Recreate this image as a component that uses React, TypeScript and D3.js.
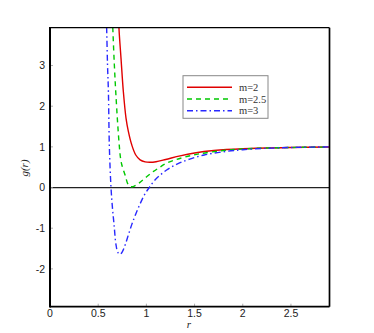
import React from "react";
import * as d3 from "d3";

const xTicks = [0, 0.5, 1, 1.5, 2, 2.5];
const yTicks = [-2, -1, 0, 1, 2, 3];
const seriesNames = ["m=2", "m=2.5", "m=3"];
const seriesColors = ["#e00000", "#00c800", "#2828ff"];
const seriesDash = ["none", "5,4", "6,3,1.5,3"];

const redR = [0.705, 0.716, 0.737, 0.761, 0.789, 0.813, 0.848, 0.89, 0.935, 0.987, 1.04, 1.1, 1.2, 1.35, 1.5, 1.7, 2.0, 2.5, 2.9];
const redG = [4.6, 3.9, 3.17, 2.36, 1.7, 1.38, 1.05, 0.8, 0.68, 0.63, 0.62, 0.635, 0.69, 0.78, 0.85, 0.91, 0.955, 0.985, 0.995];

const greenR = [0.642, 0.652, 0.668, 0.682, 0.703, 0.72, 0.732, 0.745, 0.78, 0.81, 0.84, 0.87, 0.93, 1.0, 1.07, 1.14, 1.21, 1.3, 1.4, 1.55, 1.8, 2.05, 2.5, 2.9];
const greenG = [4.6, 3.9, 3.0, 2.36, 1.54, 1.0, 0.72, 0.56, 0.3, 0.08, 0.02, 0.03, 0.12, 0.26, 0.39, 0.5, 0.6, 0.68, 0.75, 0.83, 0.91, 0.955, 0.985, 0.995];

const blueR = [0.58, 0.588, 0.597, 0.606, 0.616, 0.633, 0.648, 0.665, 0.685, 0.705, 0.727, 0.75, 0.78, 0.815, 0.85, 0.89, 0.935, 0.98, 1.03, 1.08, 1.14, 1.21, 1.28, 1.35, 1.45, 1.6, 1.8, 2.0, 2.3, 2.6, 2.9];
const blueG = [4.6, 3.9, 3.0, 2.36, 1.0, 0, -0.5, -0.92, -1.41, -1.6, -1.64, -1.58, -1.41, -1.15, -0.9, -0.65, -0.4, -0.18, 0, 0.16, 0.3, 0.43, 0.53, 0.61, 0.7, 0.8, 0.88, 0.93, 0.97, 0.99, 1.0];

const seriesR = [redR, greenR, blueR];
const seriesG = [redG, greenG, blueG];

export default function App() {
  const W = 374, H = 333;
  const left = 50, right = 329.5, top = 27.7, bottom = 306.7;
  const x = d3.scaleLinear().domain([0, 2.9]).range([left, right]);
  const y = d3.scaleLinear().domain([-2.93, 3.93]).range([bottom, top]);
  const line = d3
    .line<[number, number]>()
    .x((d) => x(d[0]))
    .y((d) => y(d[1]))
    .curve(d3.curveCatmullRom.alpha(0.5));

  const legX = 183, legY = 75.7, legW = 85, legH = 42.6;
  const rowY = [87.3, 99, 110.7];

  return (
    <svg
      width={W}
      height={H}
      style={{ position: "fixed", left: 0, top: 0, background: "#fff" }}
    >
      <defs>
        <clipPath id="plotclip">
          <rect x={left} y={top} width={right - left} height={bottom - top} />
        </clipPath>
      </defs>
      <rect x={0} y={0} width={W} height={H} fill="#fff" />
      <line x1={left} x2={right} y1={y(0)} y2={y(0)} stroke="#222" strokeWidth={1.3} />
      <g clipPath="url(#plotclip)">
        {seriesR.map((rs, i) => (
          <path
            key={i}
            d={line(rs.map((r, j) => [r, seriesG[i][j]] as [number, number])) || ""}
            fill="none"
            stroke={seriesColors[i]}
            strokeWidth={1.4}
            strokeDasharray={seriesDash[i]}
          />
        ))}
      </g>
      {xTicks.map((t) => (
        <line key={"xt" + t} x1={x(t)} x2={x(t)} y1={bottom} y2={bottom - 3} stroke="#999" strokeWidth={0.8} />
      ))}
      {yTicks.map((t) => (
        <line key={"yt" + t} x1={left} x2={left + 3} y1={y(t)} y2={y(t)} stroke="#999" strokeWidth={0.8} />
      ))}
      <line x1={left} x2={right} y1={top} y2={top} stroke="#000" strokeWidth={1.3} />
      <line x1={right} x2={right} y1={top} y2={bottom} stroke="#000" strokeWidth={1.7} />
      <line x1={left} x2={right} y1={bottom} y2={bottom} stroke="#000" strokeWidth={1.8} />
      <line x1={left} x2={left} y1={top - 0.6} y2={bottom + 0.9} stroke="#000" strokeWidth={2} />
      {xTicks.map((t) => (
        <text
          key={"xl" + t}
          x={x(t)}
          y={317}
          textAnchor="middle"
          fontFamily="Liberation Sans, Arial, sans-serif"
          fontSize={10.5}
          fill="#222"
        >
          {String(t)}
        </text>
      ))}
      {yTicks.map((t) => (
        <text
          key={"yl" + t}
          x={45}
          y={y(t) + 3.8}
          textAnchor="end"
          fontFamily="Liberation Sans, Arial, sans-serif"
          fontSize={10.5}
          fill="#222"
        >
          {String(t)}
        </text>
      ))}
      <text
        x={189}
        y={328}
        textAnchor="middle"
        fontFamily="Liberation Serif, Times New Roman, serif"
        fontStyle="italic"
        fontSize={11}
        fill="#222"
      >
        r
      </text>
      <text
        transform={`translate(28,168) rotate(-90)`}
        textAnchor="middle"
        fontFamily="Liberation Serif, Times New Roman, serif"
        fontStyle="italic"
        fontSize={11}
        fill="#222"
      >
        g(r)
      </text>
      <rect x={legX} y={legY} width={legW} height={legH} fill="#fff" stroke="#888" strokeWidth={1} />
      {seriesNames.map((n, i) => (
        <g key={n}>
          <line
            x1={187}
            x2={232}
            y1={rowY[i]}
            y2={rowY[i]}
            stroke={seriesColors[i]}
            strokeWidth={1.4}
            strokeDasharray={seriesDash[i]}
          />
          <text
            x={239}
            y={rowY[i] + 3.5}
            fontFamily="Liberation Serif, Times New Roman, serif"
            fontSize={10.5}
            fill="#333"
          >
            {n}
          </text>
        </g>
      ))}
    </svg>
  );
}
